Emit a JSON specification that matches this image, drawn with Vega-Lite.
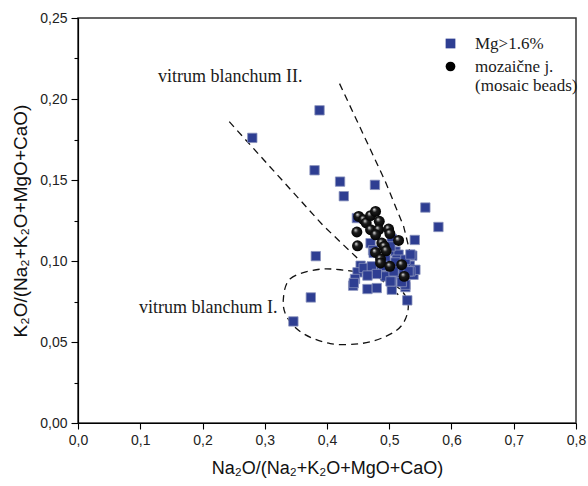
{
  "$schema": "https://vega.github.io/schema/vega-lite/v6.json",
  "width": 498,
  "height": 405,
  "autosize": {"type": "none"},
  "padding": {"left": 78, "top": 18, "right": 12, "bottom": 63},
  "background": "white",
  "config": {
    "view": {"stroke": "#333333", "strokeWidth": 1.5},
    "axis": {
      "grid": false,
      "domainColor": "#000000",
      "domainWidth": 1.2,
      "tickColor": "#000000",
      "tickWidth": 1.1,
      "labelFont": "Liberation Sans",
      "labelFontSize": 14,
      "labelColor": "#222222",
      "titleFont": "Liberation Sans",
      "titleFontWeight": "normal",
      "titleColor": "#111111",
      "labelOverlap": false,
      "labelBound": false,
      "labelFlush": false
    }
  },
  "datasets": {
    "pts": [
      {"x": 0.280, "y": 0.176, "g": "Mg>1.6%"},
      {"x": 0.388, "y": 0.193, "g": "Mg>1.6%"},
      {"x": 0.380, "y": 0.156, "g": "Mg>1.6%"},
      {"x": 0.421, "y": 0.149, "g": "Mg>1.6%"},
      {"x": 0.477, "y": 0.147, "g": "Mg>1.6%"},
      {"x": 0.427, "y": 0.140, "g": "Mg>1.6%"},
      {"x": 0.558, "y": 0.133, "g": "Mg>1.6%"},
      {"x": 0.448, "y": 0.1265, "g": "Mg>1.6%"},
      {"x": 0.579, "y": 0.121, "g": "Mg>1.6%"},
      {"x": 0.541, "y": 0.113, "g": "Mg>1.6%"},
      {"x": 0.382, "y": 0.103, "g": "Mg>1.6%"},
      {"x": 0.374, "y": 0.0775, "g": "Mg>1.6%"},
      {"x": 0.346, "y": 0.0627, "g": "Mg>1.6%"},
      {"x": 0.470, "y": 0.111, "g": "Mg>1.6%"},
      {"x": 0.474, "y": 0.1066, "g": "Mg>1.6%"},
      {"x": 0.504, "y": 0.1136, "g": "Mg>1.6%"},
      {"x": 0.510, "y": 0.1059, "g": "Mg>1.6%"},
      {"x": 0.515, "y": 0.1039, "g": "Mg>1.6%"},
      {"x": 0.537, "y": 0.1033, "g": "Mg>1.6%"},
      {"x": 0.533, "y": 0.0971, "g": "Mg>1.6%"},
      {"x": 0.454, "y": 0.0971, "g": "Mg>1.6%"},
      {"x": 0.449, "y": 0.093, "g": "Mg>1.6%"},
      {"x": 0.445, "y": 0.0889, "g": "Mg>1.6%"},
      {"x": 0.442, "y": 0.0848, "g": "Mg>1.6%"},
      {"x": 0.465, "y": 0.0827, "g": "Mg>1.6%"},
      {"x": 0.480, "y": 0.0833, "g": "Mg>1.6%"},
      {"x": 0.504, "y": 0.0823, "g": "Mg>1.6%"},
      {"x": 0.526, "y": 0.0839, "g": "Mg>1.6%"},
      {"x": 0.529, "y": 0.0757, "g": "Mg>1.6%"},
      {"x": 0.475, "y": 0.0957, "g": "Mg>1.6%"},
      {"x": 0.486, "y": 0.0936, "g": "Mg>1.6%"},
      {"x": 0.499, "y": 0.0936, "g": "Mg>1.6%"},
      {"x": 0.518, "y": 0.0915, "g": "Mg>1.6%"},
      {"x": 0.539, "y": 0.0915, "g": "Mg>1.6%"},
      {"x": 0.542, "y": 0.0946, "g": "Mg>1.6%"},
      {"x": 0.512, "y": 0.0963, "g": "Mg>1.6%"},
      {"x": 0.504, "y": 0.0874, "g": "Mg>1.6%"},
      {"x": 0.502, "y": 0.109, "g": "Mg>1.6%"},
      {"x": 0.512, "y": 0.1008, "g": "Mg>1.6%"},
      {"x": 0.470, "y": 0.0946, "g": "Mg>1.6%"},
      {"x": 0.459, "y": 0.0957, "g": "Mg>1.6%"},
      {"x": 0.526, "y": 0.1008, "g": "Mg>1.6%"},
      {"x": 0.534, "y": 0.0936, "g": "Mg>1.6%"},
      {"x": 0.494, "y": 0.0905, "g": "Mg>1.6%"},
      {"x": 0.523, "y": 0.0946, "g": "Mg>1.6%"},
      {"x": 0.510, "y": 0.0991, "g": "Mg>1.6%"},
      {"x": 0.494, "y": 0.1008, "g": "Mg>1.6%"},
      {"x": 0.475, "y": 0.105, "g": "Mg>1.6%"},
      {"x": 0.534, "y": 0.104, "g": "Mg>1.6%"},
      {"x": 0.472, "y": 0.0967, "g": "Mg>1.6%"},
      {"x": 0.507, "y": 0.0936, "g": "Mg>1.6%"},
      {"x": 0.531, "y": 0.0936, "g": "Mg>1.6%"},
      {"x": 0.443, "y": 0.0864, "g": "Mg>1.6%"},
      {"x": 0.502, "y": 0.0874, "g": "Mg>1.6%"},
      {"x": 0.526, "y": 0.0854, "g": "Mg>1.6%"},
      {"x": 0.490, "y": 0.097, "g": "Mg>1.6%"},
      {"x": 0.520, "y": 0.087, "g": "Mg>1.6%"},
      {"x": 0.480, "y": 0.092, "g": "Mg>1.6%"},
      {"x": 0.465, "y": 0.091, "g": "Mg>1.6%"},
      {"x": 0.451, "y": 0.1275, "g": "mozaične j."},
      {"x": 0.459, "y": 0.1255, "g": "mozaične j."},
      {"x": 0.463, "y": 0.1235, "g": "mozaične j."},
      {"x": 0.470, "y": 0.128, "g": "mozaične j."},
      {"x": 0.478, "y": 0.1306, "g": "mozaične j."},
      {"x": 0.484, "y": 0.1245, "g": "mozaične j."},
      {"x": 0.470, "y": 0.1193, "g": "mozaične j."},
      {"x": 0.483, "y": 0.1193, "g": "mozaične j."},
      {"x": 0.499, "y": 0.1197, "g": "mozaične j."},
      {"x": 0.501, "y": 0.1169, "g": "mozaične j."},
      {"x": 0.448, "y": 0.1179, "g": "mozaične j."},
      {"x": 0.515, "y": 0.1127, "g": "mozaične j."},
      {"x": 0.449, "y": 0.1094, "g": "mozaične j."},
      {"x": 0.488, "y": 0.1111, "g": "mozaične j."},
      {"x": 0.492, "y": 0.109, "g": "mozaične j."},
      {"x": 0.478, "y": 0.1053, "g": "mozaične j."},
      {"x": 0.495, "y": 0.1063, "g": "mozaične j."},
      {"x": 0.486, "y": 0.1012, "g": "mozaične j."},
      {"x": 0.486, "y": 0.0988, "g": "mozaične j."},
      {"x": 0.501, "y": 0.0967, "g": "mozaične j."},
      {"x": 0.520, "y": 0.0977, "g": "mozaične j."},
      {"x": 0.524, "y": 0.0905, "g": "mozaične j."},
      {"x": 0.478, "y": 0.1162, "g": "mozaične j."}
    ],
    "lines": [
      {"line": "a", "o": 1, "x": 0.2430, "y": 0.1860},
      {"line": "a", "o": 2, "x": 0.3940, "y": 0.1218},
      {"line": "a", "o": 3, "x": 0.4583, "y": 0.0983},
      {"line": "a", "o": 4, "x": 0.5145, "y": 0.0792},
      {"line": "b", "o": 1, "x": 0.4202, "y": 0.2095},
      {"line": "b", "o": 2, "x": 0.4937, "y": 0.1491},
      {"line": "b", "o": 3, "x": 0.5231, "y": 0.1214},
      {"line": "b", "o": 4, "x": 0.5370, "y": 0.0996}
    ],
    "ellipse": [
      {"o": 1, "x": 0.3298, "y": 0.0761},
      {"o": 2, "x": 0.3410, "y": 0.0891},
      {"o": 3, "x": 0.3828, "y": 0.0946},
      {"o": 4, "x": 0.4214, "y": 0.0946},
      {"o": 5, "x": 0.4696, "y": 0.0915},
      {"o": 6, "x": 0.5145, "y": 0.0835},
      {"o": 7, "x": 0.5305, "y": 0.0730},
      {"o": 8, "x": 0.5209, "y": 0.0607},
      {"o": 9, "x": 0.4936, "y": 0.0533},
      {"o": 10, "x": 0.4535, "y": 0.0490},
      {"o": 11, "x": 0.4053, "y": 0.0490},
      {"o": 12, "x": 0.3619, "y": 0.0552},
      {"o": 13, "x": 0.3362, "y": 0.0650}
    ],
    "notes": [
      {"x": 0.2447, "y": 0.2138, "t": "vitrum blanchum II."},
      {"x": 0.2093, "y": 0.0712, "t": "vitrum blanchum I."}
    ]
  },
  "layer": [
    {
      "data": {"name": "lines"},
      "mark": {"type": "line", "color": "#111111", "strokeWidth": 1.3, "strokeDash": [7, 5]},
      "encoding": {
        "x": {"field": "x", "type": "quantitative", "scale": {"domain": [0, 0.8], "nice": false, "zero": false},
          "axis": {
            "values": [0, 0.05, 0.1, 0.15, 0.2, 0.25, 0.3, 0.35, 0.4, 0.45, 0.5, 0.55, 0.6, 0.65, 0.7, 0.75, 0.8],
            "labelExpr": "abs(datum.value*10 - round(datum.value*10)) < 0.001 ? replace(format(datum.value, '.1f'), '.', ',') : ''",
            "tickSize": {"condition": {"test": "abs(datum.value*10 - round(datum.value*10)) < 0.001", "value": 6}, "value": 3.5},
            "labelPadding": 4,
            "title": "Na₂O/(Na₂+K₂O+MgO+CaO)",
            "titleFontSize": 18,
            "titlePadding": 12
          }},
        "y": {"field": "y", "type": "quantitative", "scale": {"domain": [0, 0.25], "nice": false, "zero": false},
          "axis": {
            "values": [0, 0.025, 0.05, 0.075, 0.1, 0.125, 0.15, 0.175, 0.2, 0.225, 0.25],
            "labelExpr": "abs(datum.value*20 - round(datum.value*20)) < 0.001 ? replace(format(datum.value, '.2f'), '.', ',') : ''",
            "tickSize": {"condition": {"test": "abs(datum.value*20 - round(datum.value*20)) < 0.001", "value": 7}, "value": 4},
            "labelPadding": 4,
            "title": "K₂O/(Na₂+K₂O+MgO+CaO)",
            "titleFontSize": 19,
            "titlePadding": 9
          }},
        "detail": {"field": "line"},
        "order": {"field": "o", "type": "quantitative"}
      }
    },
    {
      "data": {"name": "ellipse"},
      "mark": {"type": "line", "color": "#111111", "strokeWidth": 1.3, "strokeDash": [7, 5], "interpolate": "cardinal-closed"},
      "encoding": {
        "x": {"field": "x", "type": "quantitative"},
        "y": {"field": "y", "type": "quantitative"},
        "order": {"field": "o", "type": "quantitative"}
      }
    },
    {
      "data": {"name": "notes"},
      "mark": {"type": "text", "font": "Liberation Serif", "fontSize": 18, "color": "#1a1a1a", "align": "center", "baseline": "middle"},
      "encoding": {
        "x": {"field": "x", "type": "quantitative"},
        "y": {"field": "y", "type": "quantitative"},
        "text": {"field": "t"}
      }
    },
    {
      "data": {"name": "pts"},
      "transform": [{"filter": "datum.g == 'Mg>1.6%'"}],
      "mark": {"type": "point", "filled": true, "size": 88, "opacity": 1, "stroke": "#8a93bd", "strokeWidth": 0.8},
      "encoding": {
        "x": {"field": "x", "type": "quantitative"},
        "y": {"field": "y", "type": "quantitative"},
        "color": {"field": "g", "type": "nominal",
          "scale": {"domain": ["Mg>1.6%", "mozaične j."], "range": ["#2e3e92", "#000000"]},
          "legend": {
            "title": null,
            "orient": "none",
            "legendX": 364,
            "legendY": 17,
            "padding": 0,
            "labelFont": "Liberation Serif",
            "labelFontSize": 17,
            "labelColor": "#1a1a1a",
            "labelOffset": 16,
            "rowPadding": 5,
            "symbolSize": 95,
            "symbolStrokeWidth": 0,
            "labelLimit": 300,
            "labelExpr": "datum.label == 'mozaične j.' ? ['mozaične j.', '(mosaic beads)'] : datum.label"
          }},
        "shape": {"field": "g", "type": "nominal",
          "scale": {"domain": ["Mg>1.6%", "mozaične j."], "range": ["square", "circle"]}}
      }
    },
    {
      "data": {"name": "pts"},
      "transform": [{"filter": "datum.g == 'mozaične j.'"}],
      "mark": {"type": "point", "filled": true, "size": 120, "opacity": 1, "strokeWidth": 0,
        "fill": {"gradient": "radial", "x1": 0.36, "y1": 0.3, "r1": 0, "x2": 0.5, "y2": 0.5, "r2": 0.55,
          "stops": [{"offset": 0, "color": "#ffffff"}, {"offset": 0.14, "color": "#a0a0a0"}, {"offset": 0.38, "color": "#1c1c1c"}, {"offset": 1, "color": "#000000"}]}},
      "encoding": {
        "x": {"field": "x", "type": "quantitative"},
        "y": {"field": "y", "type": "quantitative"},
        "color": {"field": "g", "type": "nominal"},
        "shape": {"field": "g", "type": "nominal"}
      }
    }
  ]
}
